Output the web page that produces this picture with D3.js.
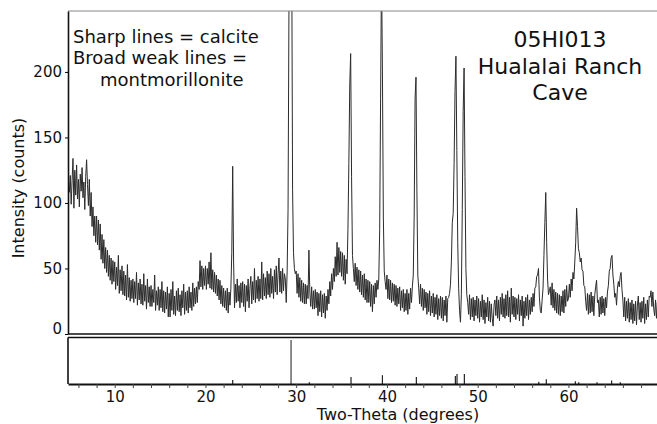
<!DOCTYPE html>
<html>
<head>
<meta charset="utf-8">
<script src="https://cdn.jsdelivr.net/npm/d3@7"></script>
<style>
  body { margin: 0; background: #fff; }
  text { font-family: "DejaVu Sans", Verdana, sans-serif; fill: #111; }
</style>
</head>
<body>
<div class="chart-container"></div>
<script>
// Scan settings (degrees two-theta).
const startAngle = 5.0,
    stepSize = 0.1;

// Counts, one value every 0.1 degree.
const counts05to15 = [
    108, 121, 99, 117, 134, 96, 125, 106, 129, 103,
    118, 97, 122, 109, 127, 104, 116, 95, 120, 133,
    114, 98, 118, 90, 108, 82, 97, 75, 90, 70,
    90, 68, 87, 64, 84, 57, 76, 54, 72, 50,
    66, 47, 64, 44, 60, 41, 58, 38, 56, 40,
    55, 34, 51, 37, 60, 31, 49, 33, 52, 30,
    48, 29, 45, 26, 53, 28, 43, 25, 41, 27,
    42, 24, 40, 27, 47, 22, 39, 26, 42, 23,
    38, 22, 46, 25, 37, 19, 42, 24, 36, 21,
    37, 21, 34, 24, 45, 18, 33, 22, 36, 18
];
const counts15to25 = [
    34, 20, 40, 17, 33, 16, 32, 19, 36, 13,
    31, 13, 34, 18, 40, 15, 29, 14, 33, 18,
    35, 17, 30, 14, 33, 20, 38, 15, 32, 18,
    33, 16, 36, 20, 32, 18, 39, 21, 35, 23,
    36, 24, 40, 34, 56, 36, 52, 34, 50, 37,
    52, 34, 50, 38, 55, 35, 62, 34, 49, 32,
    47, 31, 45, 29, 42, 26, 41, 23, 37, 21,
    35, 20, 33, 18, 35, 16, 32, 22, 35, 62,
    128, 55, 20, 38, 24, 42, 25, 37, 20, 39,
    24, 40, 21, 38, 17, 37, 25, 42, 20, 35
];
const counts25to35 = [
    44, 23, 40, 26, 50, 24, 41, 27, 44, 25,
    42, 27, 55, 26, 46, 29, 43, 27, 48, 30,
    46, 28, 50, 31, 44, 27, 49, 32, 52, 30,
    46, 58, 32, 48, 31, 50, 33, 46, 42, 24,
    48, 95, 250, 500, 600, 300, 110, 62, 50, 46,
    48, 31, 46, 28, 43, 25, 41, 24, 39, 23,
    38, 23, 37, 27, 64, 32, 21, 36, 19, 33,
    19, 34, 20, 32, 14, 31, 17, 33, 13, 30,
    16, 31, 12, 29, 18, 34, 23, 40, 29, 46,
    34, 50, 40, 59, 44, 70, 45, 66, 47, 63
];
const counts35to45 = [
    44, 62, 41, 60, 38, 57, 46, 80, 130, 190,
    214, 120, 60, 50, 40, 54, 37, 51, 34, 49,
    32, 48, 30, 45, 28, 46, 26, 42, 24, 41,
    24, 40, 21, 38, 17, 37, 23, 39, 28, 41,
    34, 42, 80, 180, 280, 200, 90, 48, 40, 34,
    45, 27, 42, 26, 41, 24, 39, 25, 38, 22,
    37, 21, 35, 23, 36, 18, 33, 20, 34, 17,
    31, 18, 34, 15, 31, 19, 35, 24, 36, 45,
    90, 180, 196, 110, 45, 35, 23, 38, 21, 35,
    18, 34, 20, 32, 15, 31, 17, 33, 14, 29
];
const counts45to55 = [
    16, 31, 13, 28, 15, 30, 11, 27, 14, 29,
    12, 28, 10, 26, 14, 29, 9, 27, 28, 31,
    38, 55, 85, 92, 130, 185, 212, 140, 70, 35,
    18, 9, 30, 95, 170, 203, 120, 50, 30, 24,
    15, 30, 11, 27, 13, 28, 10, 26, 14, 29,
    12, 27, 9, 25, 13, 30, 11, 26, 8, 24,
    13, 28, 10, 25, 9, 23, 12, 6, 22, 26,
    14, 29, 12, 26, 10, 28, 15, 31, 13, 27,
    12, 30, 14, 33, 13, 28, 9, 35, 15, 29,
    13, 28, 11, 27, 15, 30, 10, 26, 14, 29
];
const counts55to65 = [
    6, 25, 12, 28, 14, 30, 11, 26, 15, 28,
    17, 31, 21, 35, 36, 44, 45, 50, 28, 18,
    16, 26, 35, 60, 85, 108, 70, 42, 30, 33,
    36, 22, 39, 20, 34, 18, 32, 16, 31, 15,
    30, 14, 29, 17, 33, 16, 34, 21, 37, 25,
    27, 38, 28, 42, 33, 47, 42, 55, 70, 96,
    82, 65, 62, 55, 58, 49, 48, 37, 36, 25,
    18, 31, 15, 30, 16, 32, 17, 29, 14, 30,
    36, 41, 24, 26, 13, 28, 15, 29, 16, 27,
    14, 28, 20, 32, 37, 48, 50, 58, 60, 45
];
const counts65to70 = [
    38, 28, 31, 22, 35, 40, 36, 44, 47, 34,
    26, 13, 28, 10, 25, 12, 27, 9, 24, 11,
    26, 8, 23, 10, 25, 7, 22, 29, 11, 24,
    9, 25, 12, 28, 8, 23, 11, 26, 13, 29,
    28, 33, 21, 32, 19, 14, 26, 12, 24, 11,
    19
];

// Reference stick pattern (calcite), relative intensity.
const stickAngles = [23.0, 29.43, 31.45, 36.04, 39.5, 43.24, 47.54, 47.72, 48.53, 56.73, 57.56, 60.76, 61.13, 63.15, 64.76, 65.72];
const stickIntensity = [9, 100, 4, 16, 20, 16, 18, 23, 23, 5, 11, 6, 4, 4, 8, 4];

// Axis ticks.
const yTicks = [0, 50, 100, 150, 200];
const xTicks = d3.range(6, 71, 2);
const xLabels = [10, 20, 30, 40, 50, 60];

// Notes.
const leftNotes = ["Sharp lines = calcite", "Broad weak lines =", "montmorillonite"];
const sampleNotes = ["05HI013", "Hualalai Ranch", "Cave"];

// Dimensions & Constants
const width = 657,
    height = 424,
    plot = { left: 68, top: 11, bottom: 334, right: 661 },
    panel = { top: 337.5, bottom: 384 };

// Build series.
const counts = [].concat(counts05to15, counts15to25, counts25to35, counts35to45,
    counts45to55, counts55to65, counts65to70);
const scan = counts.map((c, i) => ({ angle: startAngle + i * stepSize, count: c }));
const sticks = stickAngles.map((a, i) => ({ angle: a, value: stickIntensity[i] }));

// Build scales.
const x = d3.scaleLinear().domain([4.85, 70.2]).range([plot.left, plot.right]);
const y = d3.scaleLinear().domain([0, 246.5]).range([plot.bottom, plot.top]);
const yStick = d3.scaleLinear().domain([0, 100]).range([panel.bottom, 340]);

// Build container.
const svg = d3.select('.chart-container')
    .append('svg')
        .attr('width', width)
        .attr('height', height);

svg.append('rect').attr('width', width).attr('height', height).attr('fill', '#fff');

svg.append('clipPath').attr('id', 'plot-clip')
    .append('rect')
        .attr('x', plot.left)
        .attr('y', plot.top)
        .attr('width', width - plot.left)
        .attr('height', plot.bottom - plot.top);

// Trace.
const line = d3.line()
    .x(d => x(d.angle))
    .y(d => y(d.count));

svg.append('path')
    .datum(scan)
    .attr('clip-path', 'url(#plot-clip)')
    .attr('fill', 'none')
    .attr('stroke', '#2b2b2b')
    .attr('stroke-width', 1)
    .attr('stroke-linejoin', 'round')
    .attr('d', line);

// Frame of main plot.
svg.append('line') // top
    .attr('x1', plot.left).attr('x2', width)
    .attr('y1', plot.top).attr('y2', plot.top)
    .attr('stroke', '#888').attr('stroke-width', 1);
svg.append('line') // bottom
    .attr('x1', plot.left).attr('x2', width)
    .attr('y1', plot.bottom).attr('y2', plot.bottom)
    .attr('stroke', '#111').attr('stroke-width', 1.6);

// Y axis.
const yAxis = svg.append('g')
    .attr('transform', `translate(${plot.left},0)`)
    .call(d3.axisLeft(y).tickValues(yTicks).tickSize(3).tickSizeOuter(0).tickPadding(3));
yAxis.select('.domain').attr('stroke', '#111').attr('stroke-width', 1.6);
yAxis.selectAll('text')
    .attr('font-size', 15)
    .attr('font-family', '"DejaVu Sans", Verdana, sans-serif')
    .attr('fill', '#111')
    .attr('dy', d => d === 0 ? '-0.05em' : '0.32em');

// Stick panel.
svg.append('line')
    .attr('x1', plot.left).attr('x2', width)
    .attr('y1', panel.top).attr('y2', panel.top)
    .attr('stroke', '#111').attr('stroke-width', 1.6);
svg.append('line')
    .attr('x1', plot.left).attr('x2', plot.left)
    .attr('y1', panel.top).attr('y2', panel.bottom)
    .attr('stroke', '#111').attr('stroke-width', 1.6);

svg.append('g').attr('class', 'sticks')
    .selectAll('line')
    .data(sticks)
    .join('line')
        .attr('x1', d => x(d.angle))
        .attr('x2', d => x(d.angle))
        .attr('y1', yStick(0))
        .attr('y2', d => yStick(d.value))
        .attr('stroke', d => d.value === 100 ? '#666' : '#222')
        .attr('stroke-width', d => d.value === 100 ? 1.5 : 1.2);

// X axis.
const xAxis = svg.append('g')
    .attr('transform', `translate(0,${panel.bottom})`)
    .call(d3.axisBottom(x).tickValues(xTicks).tickSize(4).tickSizeOuter(0).tickPadding(3)
        .tickFormat(d => xLabels.includes(d) ? d : ''));
xAxis.select('.domain').attr('stroke', '#111').attr('stroke-width', 2);
xAxis.selectAll('.tick line').attr('stroke', '#444');
xAxis.selectAll('text')
    .attr('font-size', 15)
    .attr('font-family', '"DejaVu Sans", Verdana, sans-serif')
    .attr('fill', '#111');

// Axis titles.
svg.append('text')
    .attr('x', 398).attr('y', 420)
    .attr('text-anchor', 'middle')
    .attr('font-size', 16)
    .text('Two-Theta (degrees)');

svg.append('text')
    .attr('transform', 'translate(24,188) rotate(-90)')
    .attr('text-anchor', 'middle')
    .attr('font-size', 16)
    .text('Intensity (counts)');

// Notes.
svg.append('g').selectAll('text')
    .data(leftNotes)
    .join('text')
        .attr('x', (d, i) => i === 2 ? 100 : 73)
        .attr('y', (d, i) => 43 + i * 21.3)
        .attr('font-size', 18)
        .text(d => d);

svg.append('g').selectAll('text')
    .data(sampleNotes)
    .join('text')
        .attr('x', 560)
        .attr('y', (d, i) => 47 + i * 26.6)
        .attr('text-anchor', 'middle')
        .attr('font-size', 22)
        .text(d => d);
</script>
</body>
</html>
